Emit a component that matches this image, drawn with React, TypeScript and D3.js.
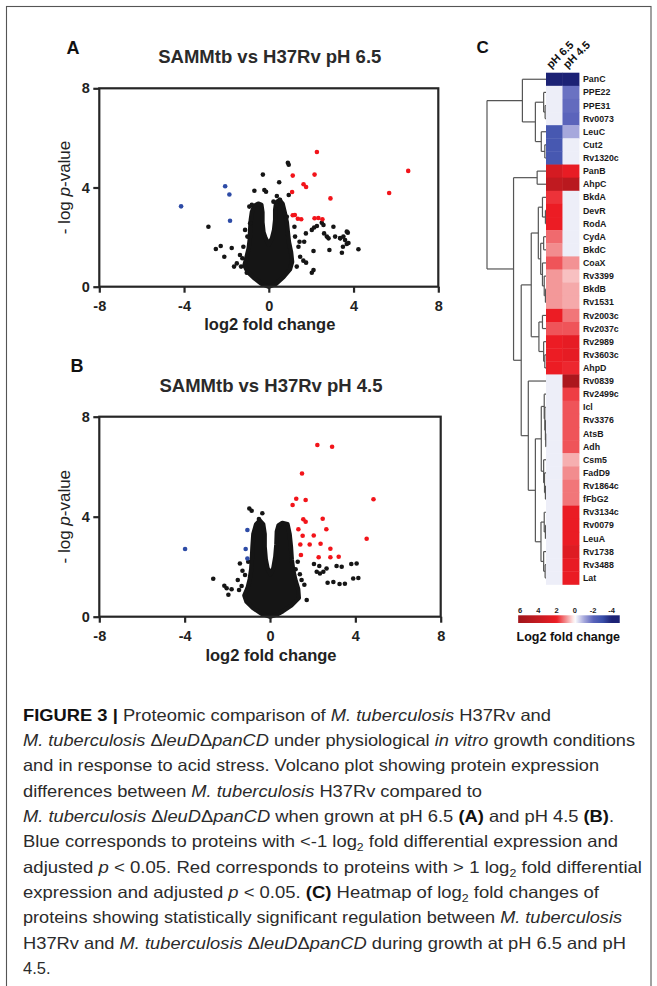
import React, { useEffect, useRef } from 'react';
import * as d3 from 'd3';

const W = 657, H = 986;

// ---- volcano data: [log2 fold change, -log p] ----
const xTicks = [-8, -4, 0, 4, 8];
const yTicks = [0, 4, 8];

// outline of the dense black core (dot centres)
const blobA: [number, number][] = [
  [0, 0], [-0.35, 0.12], [-0.7, 0.35], [-1.0, 0.6], [-1.15, 0.85], [-1.05, 1.2], [-0.95, 1.55], [-0.9, 1.9],
  [-0.88, 2.3], [-0.85, 2.7], [-0.8, 3.0], [-0.7, 3.25], [-0.5, 3.35], [-0.35, 3.3], [-0.3, 3.0], [-0.3, 2.6],
  [-0.25, 2.2], [-0.15, 1.95], [0, 1.7], [0.15, 1.95], [0.25, 2.3], [0.3, 2.7], [0.3, 3.1], [0.35, 3.4],
  [0.5, 3.5], [0.65, 3.35], [0.75, 3.0], [0.85, 2.6], [0.9, 2.2], [0.95, 1.8], [1.05, 1.4], [1.1, 1.0],
  [1.0, 0.7], [0.7, 0.4], [0.35, 0.12],
];
const blackA: [number, number][] = [
  [0.9, 5.0], [0.94, 4.92], [-0.28, 4.52], [0.49, 4.21], [-0.68, 3.87], [-0.21, 3.9], [-0.13, 3.83], [0.38, 3.66], [0.94, 3.7],
  [-2.85, 2.42], [-2.5, 1.52], [-2.27, 1.64], [-2.1, 1.21], [-1.75, 1.56], [-1.64, 0.81],
  [-1.12, 2.29], [-1.01, 2.02], [-1.2, 1.61], [-1.36, 1.28], [-1.25, 1.15], [-1.51, 0.94], [-1.31, 0.81], [-1.04, 0.56],
  [-0.88, 2.56], [-0.92, 3.23], [-0.8, 3.3],
  [2.03, 2.29], [2.14, 2.39], [2.27, 2.45], [2.5, 2.58], [2.58, 2.49], [2.61, 2.15], [2.74, 2.02], [2.82, 1.95],
  [3.05, 2.42], [3.13, 2.02], [3.37, 1.95], [3.52, 2.02], [3.6, 1.88], [3.73, 2.18], [3.68, 1.72], [3.5, 1.61],
  [3.45, 1.37], [2.86, 1.48], [4.23, 1.51], [2.11, 1.44], [1.63, 1.05], [1.76, 0.97], [2.11, 0.67], [2.03, 0.56],
  [1.32, 0.81], [1.48, 1.21], [1.4, 1.61], [1.45, 1.81], [1.24, 2.02], [1.67, 1.81], [1.75, 2.15], [1.21, 2.42],
  [0.85, 2.82], [0.53, 3.5], [0.38, 3.29], [0.22, 3.43], [3.68, 2.22], [3.76, 1.76], [3.37, 1.96],
];
const redA: [number, number][] = [
  [2.27, 5.43], [1.13, 4.48], [2.16, 4.52], [1.64, 4.13], [1.76, 4.02], [1.1, 3.82], [2.91, 3.56], [1.13, 2.88],
  [1.23, 2.89], [1.37, 2.74], [1.53, 2.72], [2.16, 2.76], [2.34, 2.77], [2.53, 2.72], [6.58, 4.67], [5.68, 3.78],
];
const blueA: [number, number][] = [[-2.06, 4.05], [-1.86, 3.72], [-1.83, 2.66], [-4.14, 3.24]];

const blobB: [number, number][] = [
  [0, 0], [-0.4, 0.12], [-0.8, 0.35], [-1.1, 0.6], [-1.2, 0.85], [-1.05, 1.15], [-0.95, 1.5], [-0.88, 1.9],
  [-0.85, 2.3], [-0.82, 2.8], [-0.78, 3.3], [-0.65, 3.7], [-0.48, 3.85], [-0.32, 3.7], [-0.25, 3.3], [-0.25, 2.8],
  [-0.2, 2.3], [-0.12, 1.95], [0.02, 1.7], [0.16, 1.95], [0.25, 2.4], [0.3, 2.9], [0.32, 3.4], [0.4, 3.65],
  [0.58, 3.75], [0.82, 3.7], [0.92, 3.3], [0.98, 2.8], [1.02, 2.3], [1.08, 1.9], [1.18, 1.5], [1.32, 1.1],
  [1.35, 0.75], [1.0, 0.45], [0.6, 0.22], [0.3, 0.08],
];
const blackB: [number, number][] = [
  [-0.97, 4.33], [-0.86, 4.24], [-0.36, 4.14], [-0.52, 3.91], [-2.66, 1.52], [-2.14, 1.24], [-2.03, 1.14], [-1.95, 0.88],
  [-1.8, 1.1], [-1.51, 1.47], [-1.45, 1.07], [-1.33, 1.23], [-1.41, 2.13], [-1.29, 1.84], [-1.02, 2.2], [-1.17, 1.67],
  [1.72, 0.67], [1.61, 1.28], [1.48, 1.47], [2.06, 2.11], [2.31, 2.03], [2.19, 1.8], [2.5, 1.8], [2.65, 1.93],
  [2.34, 1.73], [3.36, 2.0], [3.12, 2.03], [2.7, 1.36], [3.26, 1.31], [3.81, 2.11], [3.9, 1.53], [4.06, 2.13],
  [4.14, 1.55], [2.97, 1.39], [3.51, 1.32], [1.3, 2.2], [1.2, 1.9], [1.4, 1.7],
];
const redB: [number, number][] = [
  [2.22, 6.87], [2.91, 6.8], [1.5, 5.73], [1.23, 4.72], [1.67, 4.67], [1.06, 4.47], [1.56, 3.9], [1.67, 3.8],
  [2.47, 3.92], [1.33, 3.5], [2.64, 3.5], [1.53, 3.24], [2.05, 3.25], [1.42, 2.89], [1.86, 2.89], [2.37, 2.92],
  [2.83, 2.72], [1.45, 2.47], [2.28, 2.38], [2.83, 2.38], [3.22, 2.4], [4.85, 4.7], [4.53, 3.12],
];
const blueB: [number, number][] = [[-1.06, 3.47], [-1.14, 2.71], [-1.06, 2.33], [-3.98, 2.71]];

// ---- heatmap data ----
const conditions = ['pH 6.5', 'pH 4.5'];
const genes = ['PanC', 'PPE22', 'PPE31', 'Rv0073', 'LeuC', 'Cut2', 'Rv1320c', 'PanB', 'AhpC', 'BkdA', 'DevR', 'RodA',
  'CydA', 'BkdC', 'CoaX', 'Rv3399', 'BkdB', 'Rv1531', 'Rv2003c', 'Rv2037c', 'Rv2989', 'Rv3603c', 'AhpD', 'Rv0839',
  'Rv2499c', 'Icl', 'Rv3376', 'AtsB', 'Adh', 'Csm5', 'FadD9', 'Rv1864c', 'fFbG2', 'Rv3134c', 'Rv0079', 'LeuA',
  'Rv1738', 'Rv3488', 'Lat'];
const ph65 = [-4.0, -0.2, -0.2, -0.2, -2.6, -2.6, -2.6, 3.2, 4.3, 1.8, 2.0, 2.0, 1.3, 1.0, 1.5, 0.9, 0.9, 0.9, 2.0,
  1.5, 2.0, 2.0, 2.0, -0.2, -0.2, -0.2, -0.2, -0.2, -0.2, -0.2, -0.2, -0.2, -0.2, -0.2, -0.2, -0.2, -0.2, -0.2, -0.2];
const ph45 = [-4.0, -1.8, -1.9, -2.0, -1.0, -0.2, -0.2, 2.2, 4.7, -0.2, -0.2, -0.2, -0.2, -0.2, 0.95, 0.55, 0.75, 0.75,
  1.2, 1.5, 2.3, 2.3, 1.9, 5.5, 1.7, 1.5, 1.5, 1.5, 1.5, 0.7, 1.0, 1.2, 1.2, 2.1, 2.1, 2.1, 2.7, 2.2, 2.1];
const colorStops = [6, 4, 2, 1, 0, -1, -2, -3, -4];
const colorValues = ['#a3161b', '#c51b21', '#ec1c24', '#f28c8e', '#ffffff', '#a6a8dc', '#5b64bb', '#3a50ab', '#1c2275'];
const legendTicks = [6, 4, 2, 0, -2, -4];

// dendrogram: merge heights (0 = leaves, 10 = root)
const N = (h: number, ...c: any[]) => ({ h, c });
const dendrogram = N(10,
  N(4.0, 'PanC', N(1.8, N(0.4, 'PPE22', N(0.15, 'PPE31', 'Rv0073')), N(0.8, 'LeuC', N(0.2, 'Cut2', 'Rv1320c')))),
  N(5.5, N(1.5, 'PanB', 'AhpC'),
    N(4.2,
      N(2.5,
        N(1.3, N(0.6, 'BkdA', N(0.1, 'DevR', 'RodA')),
          N(0.9, N(0.4, 'CydA', 'BkdC'), N(0.6, 'CoaX', N(0.3, 'Rv3399', N(0.1, 'BkdB', 'Rv1531'))))),
        N(1.2, N(0.6, 'Rv2003c', 'Rv2037c'), N(0.4, 'Rv2989', N(0.2, 'Rv3603c', 'AhpD')))),
      N(3.0, 'Rv0839',
        N(1.8,
          N(0.8, N(0.3, 'Rv2499c', N(0.2, 'Icl', N(0.1, 'Rv3376', N(0.05, 'AtsB', 'Adh')))),
            N(0.4, 'Csm5', N(0.25, 'FadD9', N(0.1, 'Rv1864c', 'fFbG2')))),
          N(0.85, N(0.3, 'Rv3134c', N(0.1, 'Rv0079', 'LeuA')), N(0.4, 'Rv1738', N(0.15, 'Rv3488', 'Lat'))))))));

// ---- caption ----
const captionLines: [string, string][][] = [
  [['b', 'FIGURE 3 | '], ['n', 'Proteomic comparison of '], ['i', 'M. tuberculosis'], ['n', ' H37Rv and']],
  [['i', 'M. tuberculosis'], ['n', ' \u0394'], ['i', 'leuD'], ['n', '\u0394'], ['i', 'panCD'], ['n', ' under physiological '], ['i', 'in vitro'], ['n', ' growth conditions']],
  [['n', 'and in response to acid stress. Volcano plot showing protein expression']],
  [['n', 'differences between '], ['i', 'M. tuberculosis'], ['n', ' H37Rv compared to']],
  [['i', 'M. tuberculosis'], ['n', ' \u0394'], ['i', 'leuD'], ['n', '\u0394'], ['i', 'panCD'], ['n', ' when grown at pH 6.5 '], ['b', '(A)'], ['n', ' and pH 4.5 '], ['b', '(B)'], ['n', '.']],
  [['n', 'Blue corresponds to proteins with <-1 log'], ['s', '2'], ['n', ' fold differential expression and']],
  [['n', 'adjusted '], ['i', 'p'], ['n', ' < 0.05. Red corresponds to proteins with > 1 log'], ['s', '2'], ['n', ' fold differential']],
  [['n', 'expression and adjusted '], ['i', 'p'], ['n', ' < 0.05. '], ['b', '(C)'], ['n', ' Heatmap of log'], ['s', '2'], ['n', ' fold changes of']],
  [['n', 'proteins showing statistically significant regulation between '], ['i', 'M. tuberculosis']],
  [['n', 'H37Rv and '], ['i', 'M. tuberculosis'], ['n', ' \u0394'], ['i', 'leuD'], ['n', '\u0394'], ['i', 'panCD'], ['n', ' during growth at pH 6.5 and pH']],
  [['n', '4.5.']],
];
const captionEnds = [551, 635, 599, 482, 614, 618, 642, 599, 622, 626, 0];

const FONT = "'Liberation Sans', Arial, sans-serif";

function drawVolcano(svg: any, o: any) {
  const x = d3.scaleLinear().domain([-8, 8]).range([o.left, o.right]);
  const y = d3.scaleLinear().domain([0, 8]).range([o.bottom, o.top]);
  const g = svg.append('g');

  const line = d3.line<[number, number]>().x(d => x(d[0])).y(d => y(d[1])).curve(d3.curveLinearClosed);
  g.append('path').attr('d', line(o.blob)).attr('fill', '#151515')
    .attr('stroke', '#151515').attr('stroke-width', 4.4).attr('stroke-linejoin', 'round');

  const pts = (data: [number, number][], color: string) => g.append('g').selectAll('circle').data(data).join('circle')
    .attr('cx', (d: any) => x(d[0])).attr('cy', (d: any) => y(d[1])).attr('r', 2.3).attr('fill', color);
  pts(o.black, '#151515');
  pts(o.red, '#f2141a');
  pts(o.blue, '#2d4ba6');

  g.append('rect').attr('x', x(-8)).attr('y', y(8)).attr('width', x(8) - x(-8)).attr('height', y(0) - y(8))
    .attr('fill', 'none').attr('stroke', '#262626').attr('stroke-width', 2.2);

  const xa = g.append('g').attr('transform', `translate(0,${y(0)})`)
    .call(d3.axisBottom(x).tickValues(xTicks).tickSize(6).tickPadding(8).tickFormat(d3.format('d')));
  const ya = g.append('g').attr('transform', `translate(${x(-8)},0)`)
    .call(d3.axisLeft(y).tickValues(yTicks).tickSize(6).tickPadding(3.5).tickFormat(d3.format('d')));
  [xa, ya].forEach(a => {
    a.select('.domain').remove();
    a.selectAll('line').attr('stroke', '#262626').attr('stroke-width', 2.2);
    a.selectAll('text').attr('font-family', FONT).attr('font-size', 14.5).attr('font-weight', 'bold').attr('fill', '#222');
  });
  xa.selectAll('text').text((d: any) => (d < 0 ? '-' + Math.abs(d) : String(d)));

  g.append('text').attr('x', (o.left + o.right) / 2 + 1).attr('y', o.titleY).attr('text-anchor', 'middle')
    .attr('font-family', FONT).attr('font-size', 18.5).attr('font-weight', 'bold').attr('fill', '#2a2a2a').text(o.title);
  g.append('text').attr('x', o.panelX).attr('y', o.panelY).attr('font-family', FONT).attr('font-size', 18)
    .attr('font-weight', 'bold').attr('fill', '#111').text(o.panel);
  g.append('text').attr('x', x(0) + 1).attr('y', o.xlabY).attr('text-anchor', 'middle').attr('font-family', FONT)
    .attr('font-size', 16.5).attr('font-weight', 'bold').attr('fill', '#222').text('log2 fold change');
  const yl = g.append('text').attr('transform', `translate(70,${(o.top + o.bottom) / 2}) rotate(-90)`)
    .attr('text-anchor', 'middle').attr('font-family', FONT).attr('font-size', 17).attr('fill', '#222');
  yl.append('tspan').text('- log ');
  yl.append('tspan').attr('font-style', 'italic').text('p');
  yl.append('tspan').text('-value');
}

function draw(svg: any) {
  svg.append('rect').attr('x', 6.5).attr('y', 6.5).attr('width', 644.5).attr('height', 1000)
    .attr('fill', '#fff').attr('stroke', '#555').attr('stroke-width', 1.1);

  drawVolcano(svg, {
    left: 99.3, right: 438.3, top: 88.3, bottom: 286.7, blob: blobA, black: blackA, red: redA, blue: blueA,
    title: 'SAMMtb vs H37Rv pH 6.5', titleY: 62.5, panel: 'A', panelX: 66.5, panelY: 53.5, xlabY: 329.5,
  });
  drawVolcano(svg, {
    left: 99.3, right: 440.7, top: 416.7, bottom: 616.7, blob: blobB, black: blackB, red: redB, blue: blueB,
    title: 'SAMMtb vs H37Rv pH 4.5', titleY: 391.5, panel: 'B', panelX: 70.5, panelY: 371.8, xlabY: 661,
  });

  // ---- heatmap ----
  const hx = d3.scaleBand().domain(conditions).range([546, 579]);
  const hy = d3.scaleBand().domain(genes).range([72.7, 584.4]);
  const color = d3.scaleLinear<string>().domain(colorStops).range(colorValues).interpolate(d3.interpolateRgb).clamp(true);
  const cells = genes.flatMap((gname, i) => [
    { g: gname, c: conditions[0], v: ph65[i] },
    { g: gname, c: conditions[1], v: ph45[i] },
  ]);
  const hm = svg.append('g');
  hm.selectAll('rect').data(cells).join('rect')
    .attr('x', (d: any) => hx(d.c)).attr('y', (d: any) => hy(d.g))
    .attr('width', hx.bandwidth() + 0.4).attr('height', hy.bandwidth() + 0.4)
    .attr('fill', (d: any) => color(d.v));
  hm.selectAll('text.gene').data(genes).join('text').attr('class', 'gene')
    .attr('x', 583).attr('y', (d: string) => (hy(d) as number) + hy.bandwidth() / 2 + 3.1)
    .attr('font-family', FONT).attr('font-size', 8.8).attr('font-weight', 'bold').attr('fill', '#1a1a1a')
    .text((d: string) => d);
  hm.selectAll('text.cond').data(conditions).join('text').attr('class', 'cond')
    .attr('transform', (d: string) => `translate(${(hx(d) as number) + 5},69) rotate(-45)`)
    .attr('font-family', FONT).attr('font-size', 11).attr('font-weight', 'bold').attr('fill', '#111')
    .text((d: string) => d);
  svg.append('text').attr('x', 476.5).attr('y', 53).attr('font-family', FONT).attr('font-size', 17)
    .attr('font-weight', 'bold').attr('fill', '#111').text('C');

  // dendrogram
  const dxs = d3.scaleLinear().domain([0, 10]).range([546, 487]);
  const root: any = d3.hierarchy<any>(dendrogram, (d: any) => (typeof d === 'string' ? null : d.c));
  root.eachAfter((n: any) => {
    if (!n.children) {
      n.py = (hy(n.data) as number) + hy.bandwidth() / 2;
      n.px = dxs(0);
    } else {
      n.py = (n.children[0].py + n.children[n.children.length - 1].py) / 2;
      n.px = dxs(n.data.h);
    }
  });
  const links: string[] = [];
  root.each((n: any) => {
    if (!n.children) return;
    const f = n.children[0], l = n.children[n.children.length - 1];
    links.push(`M${n.px},${f.py}V${l.py}`);
    n.children.forEach((c: any) => links.push(`M${c.px},${c.py}H${n.px}`));
  });
  svg.append('g').selectAll('path').data(links).join('path').attr('d', (d: string) => d)
    .attr('fill', 'none').attr('stroke', '#555').attr('stroke-width', 1.2);

  // legend
  const lx = d3.scaleLinear().domain([6, -4]).range([520, 611.5]);
  const grad = svg.append('defs').append('linearGradient').attr('id', 'lfc');
  const x0 = lx(6.2), x1 = lx(-4.9);
  d3.range(6.2, -4.95, -0.25).forEach(v => {
    grad.append('stop').attr('offset', `${((lx(v) - x0) / (x1 - x0)) * 100}%`).attr('stop-color', color(v));
  });
  svg.append('rect').attr('x', x0).attr('y', 615.3).attr('width', x1 - x0).attr('height', 7.7).attr('fill', 'url(#lfc)');
  svg.append('g').selectAll('text').data(legendTicks).join('text')
    .attr('x', (d: number) => lx(d)).attr('y', 612.5).attr('text-anchor', 'middle')
    .attr('font-family', FONT).attr('font-size', 7.5).attr('font-weight', 'bold').attr('fill', '#222')
    .text((d: number) => String(d));
  svg.append('text').attr('x', 568.3).attr('y', 641).attr('text-anchor', 'middle').attr('font-family', FONT)
    .attr('font-size', 12.5).attr('font-weight', 'bold').attr('fill', '#111').text('Log2 fold change');

  // caption
  const cap = svg.append('g').attr('font-family', FONT).attr('font-size', 16.5).attr('fill', '#2b2b2b')
    .style('white-space', 'pre');
  captionLines.forEach((segs, i) => {
    const t = cap.append('text').attr('x', 23).attr('y', 720.7 + i * 25.33);
    if (captionEnds[i] > 0) t.attr('textLength', captionEnds[i] - 23).attr('lengthAdjust', 'spacingAndGlyphs');
    let shifted = false;
    segs.forEach(([s, txt]) => {
      const ts = t.append('tspan').text(txt);
      if (s === 'b') ts.attr('font-weight', 'bold').attr('fill', '#111');
      if (s === 'i') ts.attr('font-style', 'italic');
      if (s === 's') { ts.attr('font-size', 11).attr('dy', 4); shifted = true; }
      else if (shifted) { ts.attr('dy', -4); shifted = false; }
    });
  });
}

export default function App() {
  const ref = useRef<SVGSVGElement>(null);
  useEffect(() => {
    const svg = d3.select(ref.current);
    svg.selectAll('*').remove();
    draw(svg);
  }, []);
  return (
    <svg ref={ref} width={W} height={H} viewBox={`0 0 ${W} ${H}`}
      style={{ position: 'absolute', left: 0, top: 0, background: '#fff' }} />
  );
}
